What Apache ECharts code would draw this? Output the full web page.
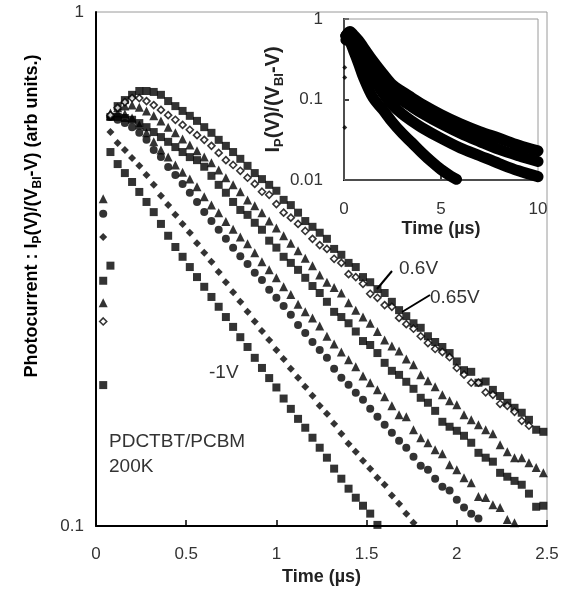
<!DOCTYPE html>
<html><head><meta charset="utf-8">
<script src="https://cdn.jsdelivr.net/npm/echarts@6/dist/echarts.min.js"></script>
<style>html,body{margin:0;padding:0;background:#fff}#c{width:563px;height:591px}</style>
</head><body><div id="c"></div>
<script>
// ---- main chart data (time in µs) ----
const times = [0.04,0.08,0.12,0.16,0.20,0.24,0.28,0.32,0.36,0.40,0.44,0.48,0.52,0.56,0.60,0.64,0.68,0.72,0.76,0.80,
  0.84,0.88,0.92,0.96,1.00,1.04,1.08,1.12,1.16,1.20,1.24,1.28,1.32,1.36,1.40,1.44,1.48,1.52,1.56,1.60,
  1.64,1.68,1.72,1.76,1.80,1.84,1.88,1.92,1.96,2.00,2.04,2.08,2.12,2.16,2.20,2.24,2.28,2.32,2.36,2.40,2.44,2.48];

const sqTop = [null,0.321,0.656,0.674,0.690,0.702,0.702,0.699,0.690,0.671,0.656,0.642,0.628,0.614,0.597,0.582,0.564,0.549,0.534,0.518,
  0.502,0.486,0.473,0.461,0.449,0.431,0.421,0.407,0.392,0.382,0.372,0.362,0.346,0.337,0.325,0.319,0.305,0.298,0.289,0.284,
  0.273,0.263,0.256,0.248,0.243,0.234,0.228,0.223,0.217,0.209,0.201,0.1995,0.190,0.191,0.184,0.179,0.1737,0.1698,0.1661,0.1609,0.1539,0.1525];
const openDia = [0.250,0.630,0.651,0.668,0.680,0.680,0.671,0.659,0.645,0.630,0.617,0.603,0.590,0.576,0.564,0.549,0.532,0.515,0.504,0.491,
  0.476,0.463,0.447,0.441,0.423,0.407,0.398,0.387,0.375,0.362,0.352,0.346,0.331,0.325,0.309,0.305,0.296,0.283,0.278,0.269,
  0.267,0.254,0.247,0.242,0.234,0.227,0.221,0.218,0.213,0.203,0.197,0.190,0.190,0.182,0.180,0.1729,0.1713,0.1668,0.1602,0.1567];
const triUp = [0.272,0.636,0.651,0.656,0.659,0.653,0.642,0.628,0.614,0.597,0.582,0.566,0.551,0.537,0.522,0.509,0.493,0.476,0.461,0.447,
  0.431,0.420,0.407,0.392,0.380,0.367,0.355,0.343,0.332,0.321,0.308,0.298,0.291,0.284,0.272,0.263,0.255,0.248,0.239,0.230,
  0.224,0.219,0.2114,0.206,0.197,0.1916,0.1865,0.180,0.1752,0.1721,0.1646,0.1609,0.1574,0.1539,0.1512,0.1439,0.1394,0.1358,0.1358,0.1328,0.1299,0.1269];
const sqMid = [0.300,0.625,0.625,0.622,0.617,0.608,0.597,0.584,0.571,0.559,0.546,0.534,0.522,0.515,0.500,0.480,0.461,0.445,0.427,0.412,
  0.403,0.389,0.377,0.359,0.348,0.334,0.325,0.315,0.304,0.293,0.284,0.273,0.261,0.255,0.248,0.239,0.229,0.225,0.217,0.2077,
  0.2004,0.1968,0.1908,0.1849,0.1776,0.1737,0.1675,0.1595,0.1560,0.1532,0.1498,0.1452,0.1388,0.1358,0.1334,0.1269,0.1247,0.1224,0.1203,0.1156,0.1090,0.1095];
const triLow = [0.433,0.628,0.636,0.633,0.622,0.603,0.582,0.559,0.539,0.522,0.504,0.488,0.473,0.457,0.437,0.421,0.407,0.391,0.378,0.365,
  0.354,0.340,0.3265,0.315,0.304,0.292,0.282,0.270,0.261,0.254,0.245,0.234,0.226,0.218,0.2105,0.204,0.1959,0.1899,0.1841,0.1784,
  0.1713,0.1646,0.1631,0.1539,0.1485,0.1452,0.1407,0.1382,0.1316,0.1287,0.1241,0.1214,0.1141,0.1136,0.1100,0.1086,0.1029,0.1015];
const circ = [0.405,0.625,0.617,0.608,0.597,0.582,0.564,0.539,0.522,0.4995,0.482,0.463,0.445,0.427,0.408,0.392,0.377,0.362,0.348,0.335,
  0.3235,0.311,0.301,0.288,0.278,0.268,0.2575,0.2462,0.2375,0.2281,0.220,0.2124,0.2022,0.1942,0.1882,0.1816,0.176,0.169,0.1631,0.1574,
  0.1519,0.1465,0.142,0.1364,0.131,0.1287,0.1236,0.1192,0.1172,0.1125,0.1086,0.1057,0.1034];
const dia = [0.365,0.584,0.556,0.539,0.520,0.502,0.482,0.461,0.439,0.421,0.403,0.387,0.372,0.355,0.340,0.3265,0.312,0.298,0.285,0.273,
  0.261,0.250,0.2396,0.230,0.220,0.2114,0.2022,0.1942,0.1865,0.1792,0.1713,0.1653,0.1581,0.1512,0.1445,0.1394,0.1340,0.1293,0.1241,0.1203,
  0.1146,0.1105,0.1057,0.1015];
const sqLow = [0.188,0.534,0.506,0.486,0.467,0.4466,0.427,0.408,0.387,0.367,0.349,0.334,0.319,0.305,0.292,0.279,0.267,0.255,0.244,0.233,
  0.223,0.2124,0.203,0.194,0.186,0.177,0.169,0.1616,0.1553,0.1485,0.1420,0.1358,0.1293,0.1236,0.1182,0.1135,0.1095,0.1057,0.1005];

// ---- inset data (time in µs, bands of overlapping markers) ----
const insetTimes = [0.1,0.3,0.5,0.75,1,1.5,2,2.5,3,3.5,4,5,6,7,8,9,10];
const bandA = [0.62,0.70,0.63,0.54,0.445,0.30,0.21,0.152,0.125,0.105,0.088,0.065,0.050,0.040,0.033,0.027,0.023];
const bandB = [0.62,0.65,0.56,0.46,0.37,0.25,0.17,0.118,0.097,0.081,0.068,0.050,0.038,0.030,0.024,0.020,0.017];
const bandC = [0.62,0.60,0.48,0.37,0.29,0.19,0.12,0.085,0.066,0.054,0.045,0.033,0.025,0.020,0.016,0.013,0.011];
const insetTimesD = [0.1,0.3,0.5,0.75,1,1.5,2,2.5,3,3.5,4,4.5,5,5.5,5.8];
const bandD = [0.55,0.52,0.40,0.28,0.19,0.105,0.075,0.052,0.038,0.029,0.022,0.017,0.0135,0.0112,0.0102];
const insetFirstT = [0.04,0.04,0.04];
const insetFirstV = [0.188,0.25,0.045];

// x / y tick labels
const xTicksMain = [0,0.5,1,1.5,2,2.5];
const yTicksMain = [0.1,1];

const FONT = 'Liberation Sans, Arial, sans-serif';
function pairs(tt, vv){ const out=[]; for(let i=0;i<vv.length;i++){ if(vv[i]!=null) out.push([tt[i], vv[i]]); } return out; }

const chart = echarts.init(document.getElementById('c'), null, {renderer:'canvas'});
const blk = '#000';
function sc(name, data, symbol, size, extra){
  return Object.assign({type:'scatter', name, xAxisIndex:0, yAxisIndex:0, data:pairs(times,data), symbol, symbolSize:size,
    itemStyle:{color:blk}, silent:true, z:3}, extra||{});
}
function band(data, tt){
  return {type:'line', xAxisIndex:1, yAxisIndex:1, data:pairs(tt,data), showSymbol:false, smooth:0.35,
    lineStyle:{color:blk, width:11, cap:'round', join:'round'}, silent:true, z:4};
}
const sub = {fontSize:12, fontWeight:'bold', fontFamily:FONT, color:'#222', verticalAlign:'bottom', padding:[0,0,-3,0]};
const big = {fontSize:18, fontWeight:'bold', fontFamily:FONT, color:'#222'};
const subI = {fontSize:13, fontWeight:'bold', fontFamily:FONT, color:'#222', verticalAlign:'bottom', padding:[0,0,-3,0]};
const bigI = {fontSize:20, fontWeight:'bold', fontFamily:FONT, color:'#222'};

chart.setOption({
  animation:false,
  backgroundColor:'#fff',
  grid:[
    {left:96, top:12, width:451, height:514, show:true, borderColor:'#9a9a9a', borderWidth:1, backgroundColor:'transparent'},
    {left:344, top:19, width:194, height:161, show:true, borderColor:'#9a9a9a', borderWidth:1, backgroundColor:'transparent', z:3}
  ],
  xAxis:[
    {type:'value', gridIndex:0, min:0, max:2.5, interval:0.5,
      axisLine:{show:true, onZero:false, lineStyle:{color:blk, width:2}},
      axisTick:{show:true, inside:true, length:6, lineStyle:{color:blk, width:1.5}},
      axisLabel:{fontSize:17, color:'#333', fontFamily:FONT, margin:20,
        formatter:v=> xTicksMain.includes(+v.toFixed(2)) ? String(+v.toFixed(2)) : ''},
      splitLine:{show:false},
      name:'Time (µs)', nameLocation:'middle', nameGap:42,
      nameTextStyle:{fontSize:18, fontWeight:'bold', color:'#222', fontFamily:FONT}},
    {type:'value', gridIndex:1, min:0, max:10, interval:5,
      axisLine:{show:true, onZero:false, lineStyle:{color:blk, width:2}},
      axisTick:{show:true, inside:true, length:5, lineStyle:{color:blk, width:1.5}},
      axisLabel:{fontSize:17, color:'#333', fontFamily:FONT, margin:21},
      splitLine:{show:false},
      name:'Time (µs)', nameLocation:'middle', nameGap:40,
      nameTextStyle:{fontSize:18, fontWeight:'bold', color:'#222', fontFamily:FONT}}
  ],
  yAxis:[
    {type:'log', gridIndex:0, min:0.1, max:1, logBase:10,
      axisLine:{show:true, onZero:false, lineStyle:{color:blk, width:2}},
      axisTick:{show:false}, minorTick:{show:false},
      axisLabel:{fontSize:17, color:'#333', fontFamily:FONT, margin:12,
        formatter:v=> yTicksMain.some(t=>Math.abs(t-v)<1e-9) ? String(v) : ''},
      splitLine:{show:false}},
    {type:'log', gridIndex:1, min:0.01, max:1, logBase:10,
      axisLine:{show:true, onZero:false, lineStyle:{color:blk, width:2}},
      axisTick:{show:true, inside:true, length:5, lineStyle:{color:blk, width:1.5}},
      axisLabel:{fontSize:17, color:'#333', fontFamily:FONT, margin:21, formatter:v=>String(v)},
      splitLine:{show:false},
      name:'{b|I}{s|P}{b|(V)/(V}{s|BI}{b|-V)}', nameLocation:'middle', nameGap:60, nameRotate:90,
      nameTextStyle:{rich:{b:bigI, s:subI}}}
  ],
  series:[
    sc('0.6V', sqTop, 'rect', 8),
    sc('0.65V', openDia, 'diamond', 7, {itemStyle:{color:'#fff', borderColor:blk, borderWidth:1.6}, z:4}),
    sc('triUp', triUp, 'triangle', 9),
    sc('sqMid', sqMid, 'rect', 8),
    sc('triLow', triLow, 'triangle', 9),
    sc('circ', circ, 'circle', 8),
    sc('dia', dia, 'diamond', 8),
    sc('-1V', sqLow, 'rect', 8),
    band(bandA, insetTimes), band(bandB, insetTimes), band(bandC, insetTimes), band(bandD, insetTimesD),
    {type:'scatter', xAxisIndex:1, yAxisIndex:1, data:pairs(insetFirstT, insetFirstV), symbol:'diamond', symbolSize:5,
      itemStyle:{color:blk}, silent:true, z:5}
  ],
  graphic:[
    {type:'text', x:32, y:216, rotation:Math.PI/2,
      style:{text:'{b|Photocurrent : I}{s|P}{b|(V)/(V}{s|BI}{b|-V) (arb units.)}', align:'center', verticalAlign:'middle',
        rich:{b:big, s:sub}}},
    {type:'text', x:399, y:259, style:{text:'0.6V', fontSize:19, fill:'#333', fontFamily:FONT}},
    {type:'text', x:430, y:288, style:{text:'0.65V', fontSize:19, fill:'#333', fontFamily:FONT}},
    {type:'text', x:209, y:363, style:{text:'-1V', fontSize:19, fill:'#333', fontFamily:FONT}},
    {type:'text', x:109, y:432, style:{text:'PDCTBT/PCBM', fontSize:19, fill:'#333', fontFamily:FONT}},
    {type:'text', x:109, y:457, style:{text:'200K', fontSize:19, fill:'#333', fontFamily:FONT}},
    {type:'line', shape:{x1:392, y1:271, x2:377, y2:289}, style:{stroke:blk, lineWidth:2}},
    {type:'line', shape:{x1:430, y1:295, x2:402, y2:312}, style:{stroke:blk, lineWidth:2}}
  ]
});
</script></body></html>
